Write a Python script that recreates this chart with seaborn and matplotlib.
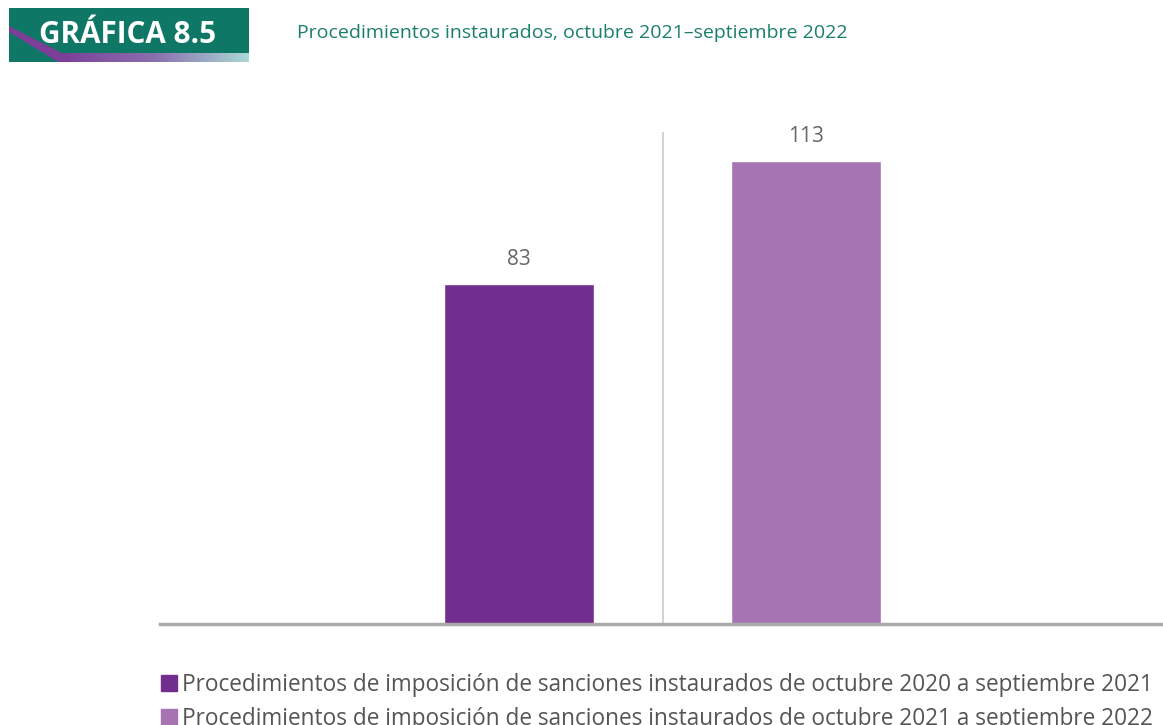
import numpy as np
import pandas as pd
import seaborn as sns
import matplotlib.pyplot as plt
from matplotlib.patches import Rectangle, Polygon
from matplotlib.colors import LinearSegmentedColormap

categories = [
    "Procedimientos de imposición de sanciones instaurados de octubre 2020 a septiembre 2021",
    "Procedimientos de imposición de sanciones instaurados de octubre 2021 a septiembre 2022",
]
values = [83, 113]
colors = ["#722E8F", "#A674B2"]
title_box = "GRÁFICA 8.5"
subtitle = "Procedimientos instaurados, octubre 2021–septiembre 2022"

sns.set_theme(style="white")
plt.rcParams['font.family'] = ['Open Sans', 'DejaVu Sans']

W, H = 1163, 725
fig = plt.figure(figsize=(W / 100, H / 100), dpi=100)
ax = fig.add_axes([160 / W, 1 - 624 / H, 1 - 160 / W, (624 - 132) / H])

df = pd.DataFrame({"cat": categories, "val": values})
sns.barplot(data=df, x="cat", y="val", hue="cat", palette=colors, width=0.52,
            dodge=False, legend=False, ax=ax, saturation=1)
ax.set_xlim(-1.251, 2.244)
ax.set_ylim(0, 120)
ax.axvline(0.5, color="#cccccc", lw=1.2, zorder=0)
for s in ["top", "right", "left"]:
    ax.spines[s].set_visible(False)
ax.spines["bottom"].set_color("#aaaaaa")
ax.spines["bottom"].set_linewidth(2.5)
ax.set_xticks([])
ax.set_yticks([])
ax.set_xlabel("")
ax.set_ylabel("")
for i, v in enumerate(values):
    ax.annotate(str(v), (i, v), xytext=(0, 10), textcoords="offset points",
                ha="center", va="bottom", fontsize=15, color="#666666")

# Legend
handles = [Rectangle((0, 0), 1, 1, color=c) for c in colors]
fig.legend(handles, categories, loc="upper left",
           bbox_to_anchor=(161 / W, 1 - 673 / H), frameon=False,
           fontsize=16.3, labelcolor="#555555", handlelength=0.72, handleheight=0.72,
           handletextpad=0.2, labelspacing=0.45, borderpad=0, borderaxespad=0)

# Header box
hax = fig.add_axes([0, 0, 1, 1])
hax.set_xlim(0, W)
hax.set_ylim(H, 0)
hax.axis("off")
hax.add_patch(Rectangle((9, 8), 240, 54, color="#0E7766", zorder=1, lw=0))
grad = np.linspace(0, 1, 256).reshape(1, -1)
cmap = LinearSegmentedColormap.from_list("g", ["#7B3F98", "#8A6FAE", "#A9D9D6"])
hax.imshow(grad, extent=(60, 249, 62, 53), cmap=cmap, aspect="auto", zorder=2)
hax.add_patch(Polygon([(9, 26), (9, 32), (58, 62), (70, 62), (70, 53), (62, 53)],
                      closed=True, color="#7B3F98", zorder=2, lw=0))
hax.set_xlim(0, W)
hax.set_ylim(H, 0)
hax.text(128, 35, title_box, color="white", fontsize=21.3, fontweight="bold",
         ha="center", va="center", zorder=3)
hax.text(297, 33, subtitle, color="#1A7E6C", fontsize=14, ha="left", va="center")

fig.savefig("out.png", dpi=100)
